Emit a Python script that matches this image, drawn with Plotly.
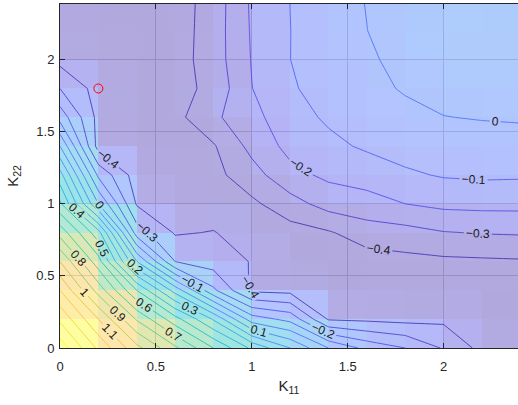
import plotly.graph_objects as go

# grid coordinates
k11_values = [0.0, 0.2, 0.4, 0.6, 0.8, 1.0, 1.2, 1.4, 1.6, 1.8, 2.0, 2.2, 2.4]
k22_values = [0.0, 0.2, 0.4, 0.6, 0.8, 1.0, 1.2, 1.4, 1.6, 1.8, 2.0, 2.2, 2.4]

# surface values, one row per K22 value (columns follow k11_values)
z_k22_00 = [1.56, 1.28, 1.03, 0.82, 0.60, 0.38, 0.20, 0.00, -0.13, -0.20, -0.31, -0.43, -0.47]
z_k22_02 = [1.38, 1.10, 0.79, 0.54, 0.29, -0.05, -0.13, -0.41, -0.42, -0.43, -0.42, -0.47, -0.48]
z_k22_04 = [1.20, 0.86, 0.50, 0.16, -0.18, -0.42, -0.43, -0.47, -0.465, -0.46, -0.45, -0.46, -0.46]
z_k22_06 = [1.00, 0.64, 0.10, -0.30, -0.35, -0.405, -0.47, -0.46, -0.445, -0.43, -0.42, -0.415, -0.41]
z_k22_08 = [0.76, 0.44, -0.25, -0.41, -0.395, -0.45, -0.44, -0.41, -0.35, -0.335, -0.305, -0.295, -0.29]
z_k22_10 = [0.52, 0.00, -0.41, -0.45, -0.46, -0.42, -0.34, -0.26, -0.235, -0.20, -0.175, -0.17, -0.17]
z_k22_12 = [0.34, -0.22, -0.45, -0.46, -0.43, -0.34, -0.23, -0.18, -0.16, -0.115, -0.092, -0.085, -0.088]
z_k22_14 = [0.10, -0.44, -0.47, -0.47, -0.41, -0.27, -0.17, -0.125, -0.085, -0.06, -0.045, -0.04, -0.04]
z_k22_16 = [-0.14, -0.43, -0.47, -0.43, -0.32, -0.23, -0.14, -0.085, -0.05, -0.03, -0.002, 0.005, 0.01]
z_k22_18 = [-0.30, -0.44, -0.47, -0.44, -0.37, -0.202, -0.11, -0.065, -0.03, 0.01, 0.03, 0.035, 0.04]
z_k22_20 = [-0.43, -0.46, -0.47, -0.445, -0.35, -0.195, -0.1005, -0.055, -0.015, 0.03, 0.05, 0.055, 0.06]
z_k22_22 = [-0.45, -0.47, -0.47, -0.45, -0.35, -0.19, -0.101, -0.045, -0.001, 0.045, 0.06, 0.065, 0.07]
z_k22_24 = [-0.46, -0.47, -0.47, -0.45, -0.355, -0.185, -0.0995, -0.04, 0.003, 0.055, 0.065, 0.07, 0.08]

# highlighted point
marker_k11 = [0.2]
marker_k22 = [1.8]

# axis ticks
tick_values = [0, 0.5, 1, 1.5, 2]
tick_labels = ["0", "0.5", "1", "1.5", "2"]

z_grid = [z_k22_00, z_k22_02, z_k22_04, z_k22_06, z_k22_08, z_k22_10, z_k22_12,
          z_k22_14, z_k22_16, z_k22_18, z_k22_20, z_k22_22, z_k22_24]

# flat-shaded cells: each cell coloured by its lower-left node
z_cells = [row[:-1] for row in z_grid[:-1]]

# parula-like colour map
parula = [
    [0.0, "rgb(62,38,168)"], [0.1, "rgb(71,66,230)"], [0.2, "rgb(67,103,253)"],
    [0.3, "rgb(45,140,243)"], [0.4, "rgb(28,170,223)"], [0.5, "rgb(3,185,196)"],
    [0.6, "rgb(54,199,153)"], [0.7, "rgb(130,202,90)"], [0.75, "rgb(190,195,55)"],
    [0.8, "rgb(240,188,55)"], [0.85, "rgb(254,192,55)"], [0.9, "rgb(252,205,45)"],
    [0.95, "rgb(245,228,30)"], [1.0, "rgb(249,251,21)"],
]
zmin, zmax = -0.48, 1.56

fig = go.Figure()
fig.add_trace(go.Heatmap(
    z=z_cells, x=k11_values, y=k22_values,
    colorscale=parula, zmin=zmin, zmax=zmax, opacity=0.4,
    showscale=False, hoverinfo="skip",
))
fig.add_trace(go.Contour(
    z=z_grid, x=k11_values, y=k22_values,
    colorscale=parula, zmin=zmin, zmax=zmax, showscale=False,
    autocontour=False,
    contours=dict(start=-0.4, end=1.5, size=0.1, coloring="lines",
                  showlabels=True,
                  labelfont=dict(size=12, color="#1a1a1a",
                                 family="Liberation Sans, Arial")),
    line=dict(width=0.8, smoothing=0),
    hoverinfo="skip",
))
fig.add_trace(go.Scatter(
    x=marker_k11, y=marker_k22, mode="markers",
    marker=dict(symbol="circle-open", size=9, color="red", line=dict(width=1)),
    showlegend=False, hoverinfo="skip",
))

axis_common = dict(
    tickvals=tick_values, ticktext=tick_labels,
    showgrid=True, gridcolor="#d4d4d4", gridwidth=1, zeroline=False,
    showline=True, linecolor="#262626", linewidth=1,
    ticks="inside", ticklen=5, tickcolor="#262626",
    tickfont=dict(size=13, color="#262626", family="Liberation Sans, Arial"),
)

fig.update_layout(
    width=518, height=405,
    margin=dict(l=60, r=0, t=4, b=57),
    plot_bgcolor="white", paper_bgcolor="white",
    showlegend=False,
    font=dict(family="Liberation Sans, Arial", color="#262626"),
    xaxis=dict(range=[0, 2.388], mirror="ticks", ticklabelstandoff=6,
               title=dict(text="K<sub>11</sub>", font=dict(size=15), standoff=7),
               **axis_common),
    yaxis=dict(range=[0, 2.386], ticklabelstandoff=2,
               title=dict(text="K<sub>22</sub>", font=dict(size=15), standoff=14),
               **axis_common),
)

fig.write_html("out.html")
